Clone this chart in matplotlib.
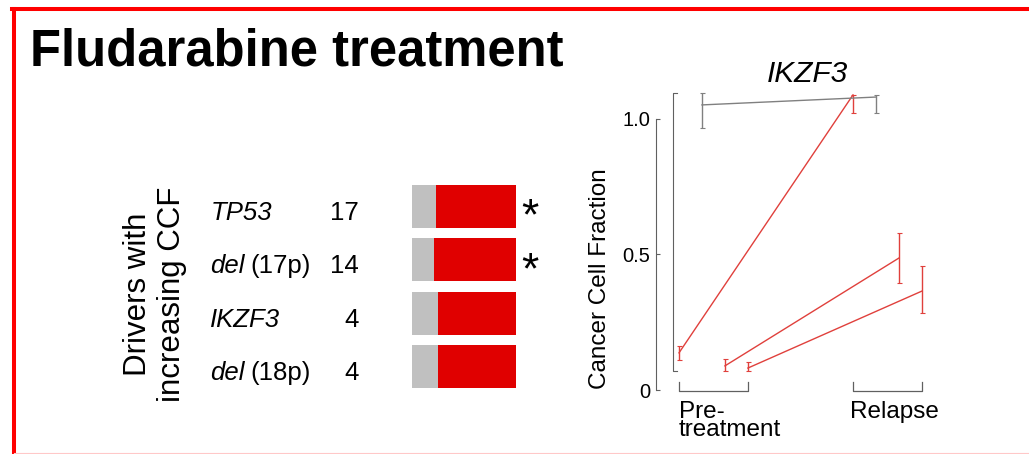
import matplotlib.pyplot as plt
from matplotlib.lines import Line2D

plt.rcParams['font.family'] = ['Liberation Sans', 'DejaVu Sans']

# drivers with increasing CCF after fludarabine
gene_italic = ['TP53', 'del', 'IKZF3', 'del']
gene_rest = ['', '(17p)', '', '(18p)']
counts = [17, 14, 4, 4]
stable_frac = [0.235, 0.214, 0.25, 0.25]
significant = [True, True, False, False]

# IKZF3 cancer cell fraction, pre-treatment vs relapse
pre = [0.137, 1.052, 0.089, 0.081]
pre_lo = [0.111, 0.967, 0.070, 0.070]
pre_hi = [0.162, 1.096, 0.114, 0.103]
rel = [1.089, 1.081, 0.487, 0.365]
rel_lo = [1.022, 1.022, 0.395, 0.284]
rel_hi = [1.089, 1.089, 0.579, 0.458]
increased = [True, False, True, True]

RED = '#e00000'
LINE_RED = '#e0403c'
W, H = 1029, 454

fig = plt.figure(figsize=(W / 100, H / 100), dpi=100)

def px_axes(x0, y0, x1, y1):
    return fig.add_axes([x0 / W, 1 - y1 / H, (x1 - x0) / W, (y1 - y0) / H])

# frame
fig.add_artist(Line2D([14 / W, 14 / W], [0, 1 - 9 / H], color='red', lw=2.9))
fig.add_artist(Line2D([12 / W, 1], [1 - 9 / H, 1 - 9 / H], color='red', lw=2.9))
fig.add_artist(Line2D([14 / W, 1], [1.5 / H, 1.5 / H], color='#ffc8c8', lw=0.8))

fig.text(30 / W, 1 - 65 / H, 'Fludarabine treatment', fontsize=36.5,
         fontweight='bold', va='baseline')

# ---- bars ----
ax = px_axes(412, 180, 516, 393)
rows = range(len(counts))
ax.barh(rows, stable_frac, height=0.81, color='#c0c0c0')
ax.barh(rows, [1 - f for f in stable_frac], left=stable_frac, height=0.81, color=RED)
ax.set_xlim(0, 1)
ax.set_ylim(3.5, -0.5)
ax.axis('off')

tr = ax.get_yaxis_transform()
for i in rows:
    t = ax.text(-1.94, i + 0.12, gene_italic[i], transform=tr, fontsize=18.5,
                style='italic', va='center', ha='left')
    if gene_rest[i]:
        ax.annotate(gene_rest[i], xy=(1, 0.5), xycoords=t, xytext=(6, 0),
                    textcoords='offset pixels', fontsize=18.5, va='center', ha='left')
    ax.text(-0.51, i + 0.12, str(counts[i]), transform=tr, fontsize=18.5,
            va='center', ha='right')
    if significant[i]:
        ax.text(1.135, i + 0.22, '*', transform=tr, fontsize=32, va='center', ha='center')

fig.text(155 / W, 1 - 294 / H, 'Drivers with\nincreasing CCF', rotation=90,
         fontsize=22.5, ha='center', va='center', multialignment='center',
         linespacing=1.15)

# ---- CCF panel ----
ax2 = px_axes(640, 80, 960, 400)
ax2.set_xlim((640 - 679) / 174, (960 - 679) / 174)
ax2.set_ylim((390 - 400) / 271, (390 - 80) / 271)
for s in ['top', 'right', 'bottom']:
    ax2.spines[s].set_visible(False)
ax2.spines['left'].set_position(('data', -0.132))
ax2.spines['left'].set_bounds(0, 1)
ax2.spines['left'].set_color('#606060')
ax2.set_xticks([])
ax2.set_yticks([0, 0.5, 1.0])
ax2.set_yticklabels(['0', '0.5', '1.0'])
ax2.tick_params(axis='y', direction='in', length=3, color='#606060',
                labelsize=14.5, pad=4)
ax2.set_facecolor('none')

step = 0.132
for k in range(len(pre)):
    c = LINE_RED if increased[k] else '#808080'
    xp, xr = k * step, 1 + k * step
    ax2.plot([xp, xr], [pre[k], rel[k]], color=c, lw=1.0)
    ax2.errorbar([xp, xr], [pre[k], rel[k]],
                 yerr=[[pre[k] - pre_lo[k], rel[k] - rel_lo[k]],
                       [pre_hi[k] - pre[k], rel_hi[k] - rel[k]]],
                 fmt='none', ecolor=c, elinewidth=1.0, capsize=1.8, capthick=0.8)

# range bracket next to the axis
lo = min(pre_lo + rel_lo)
hi = max(pre_hi + rel_hi)
ax2.plot([-0.01, -0.034, -0.034, -0.01], [hi, hi, lo, lo], color='#606060', lw=0.8)

# group brackets under the points
n = len(pre)
for x0 in [0, 1]:
    x1 = x0 + (n - 1) * step
    ax2.plot([x0, x0, x1, x1], [0.03, -0.004, -0.004, 0.03], color='#606060',
             lw=0.9, clip_on=False)
ax2.text(0, -0.04, 'Pre-\ntreatment', fontsize=17.5, ha='left', va='top',
         linespacing=0.8)
ax2.text(0.98, -0.04, 'Relapse', fontsize=17.5, ha='left', va='top')

fig.text(807.5 / W, 1 - 82 / H, 'IKZF3', fontsize=21.5, style='italic',
         ha='center', va='baseline')
ax2.set_ylabel('Cancer Cell Fraction', fontsize=17.5)
ax2.yaxis.set_label_coords((611 - 640) / 320, (400 - 279) / 320)

fig.savefig('out.png', dpi=100)
